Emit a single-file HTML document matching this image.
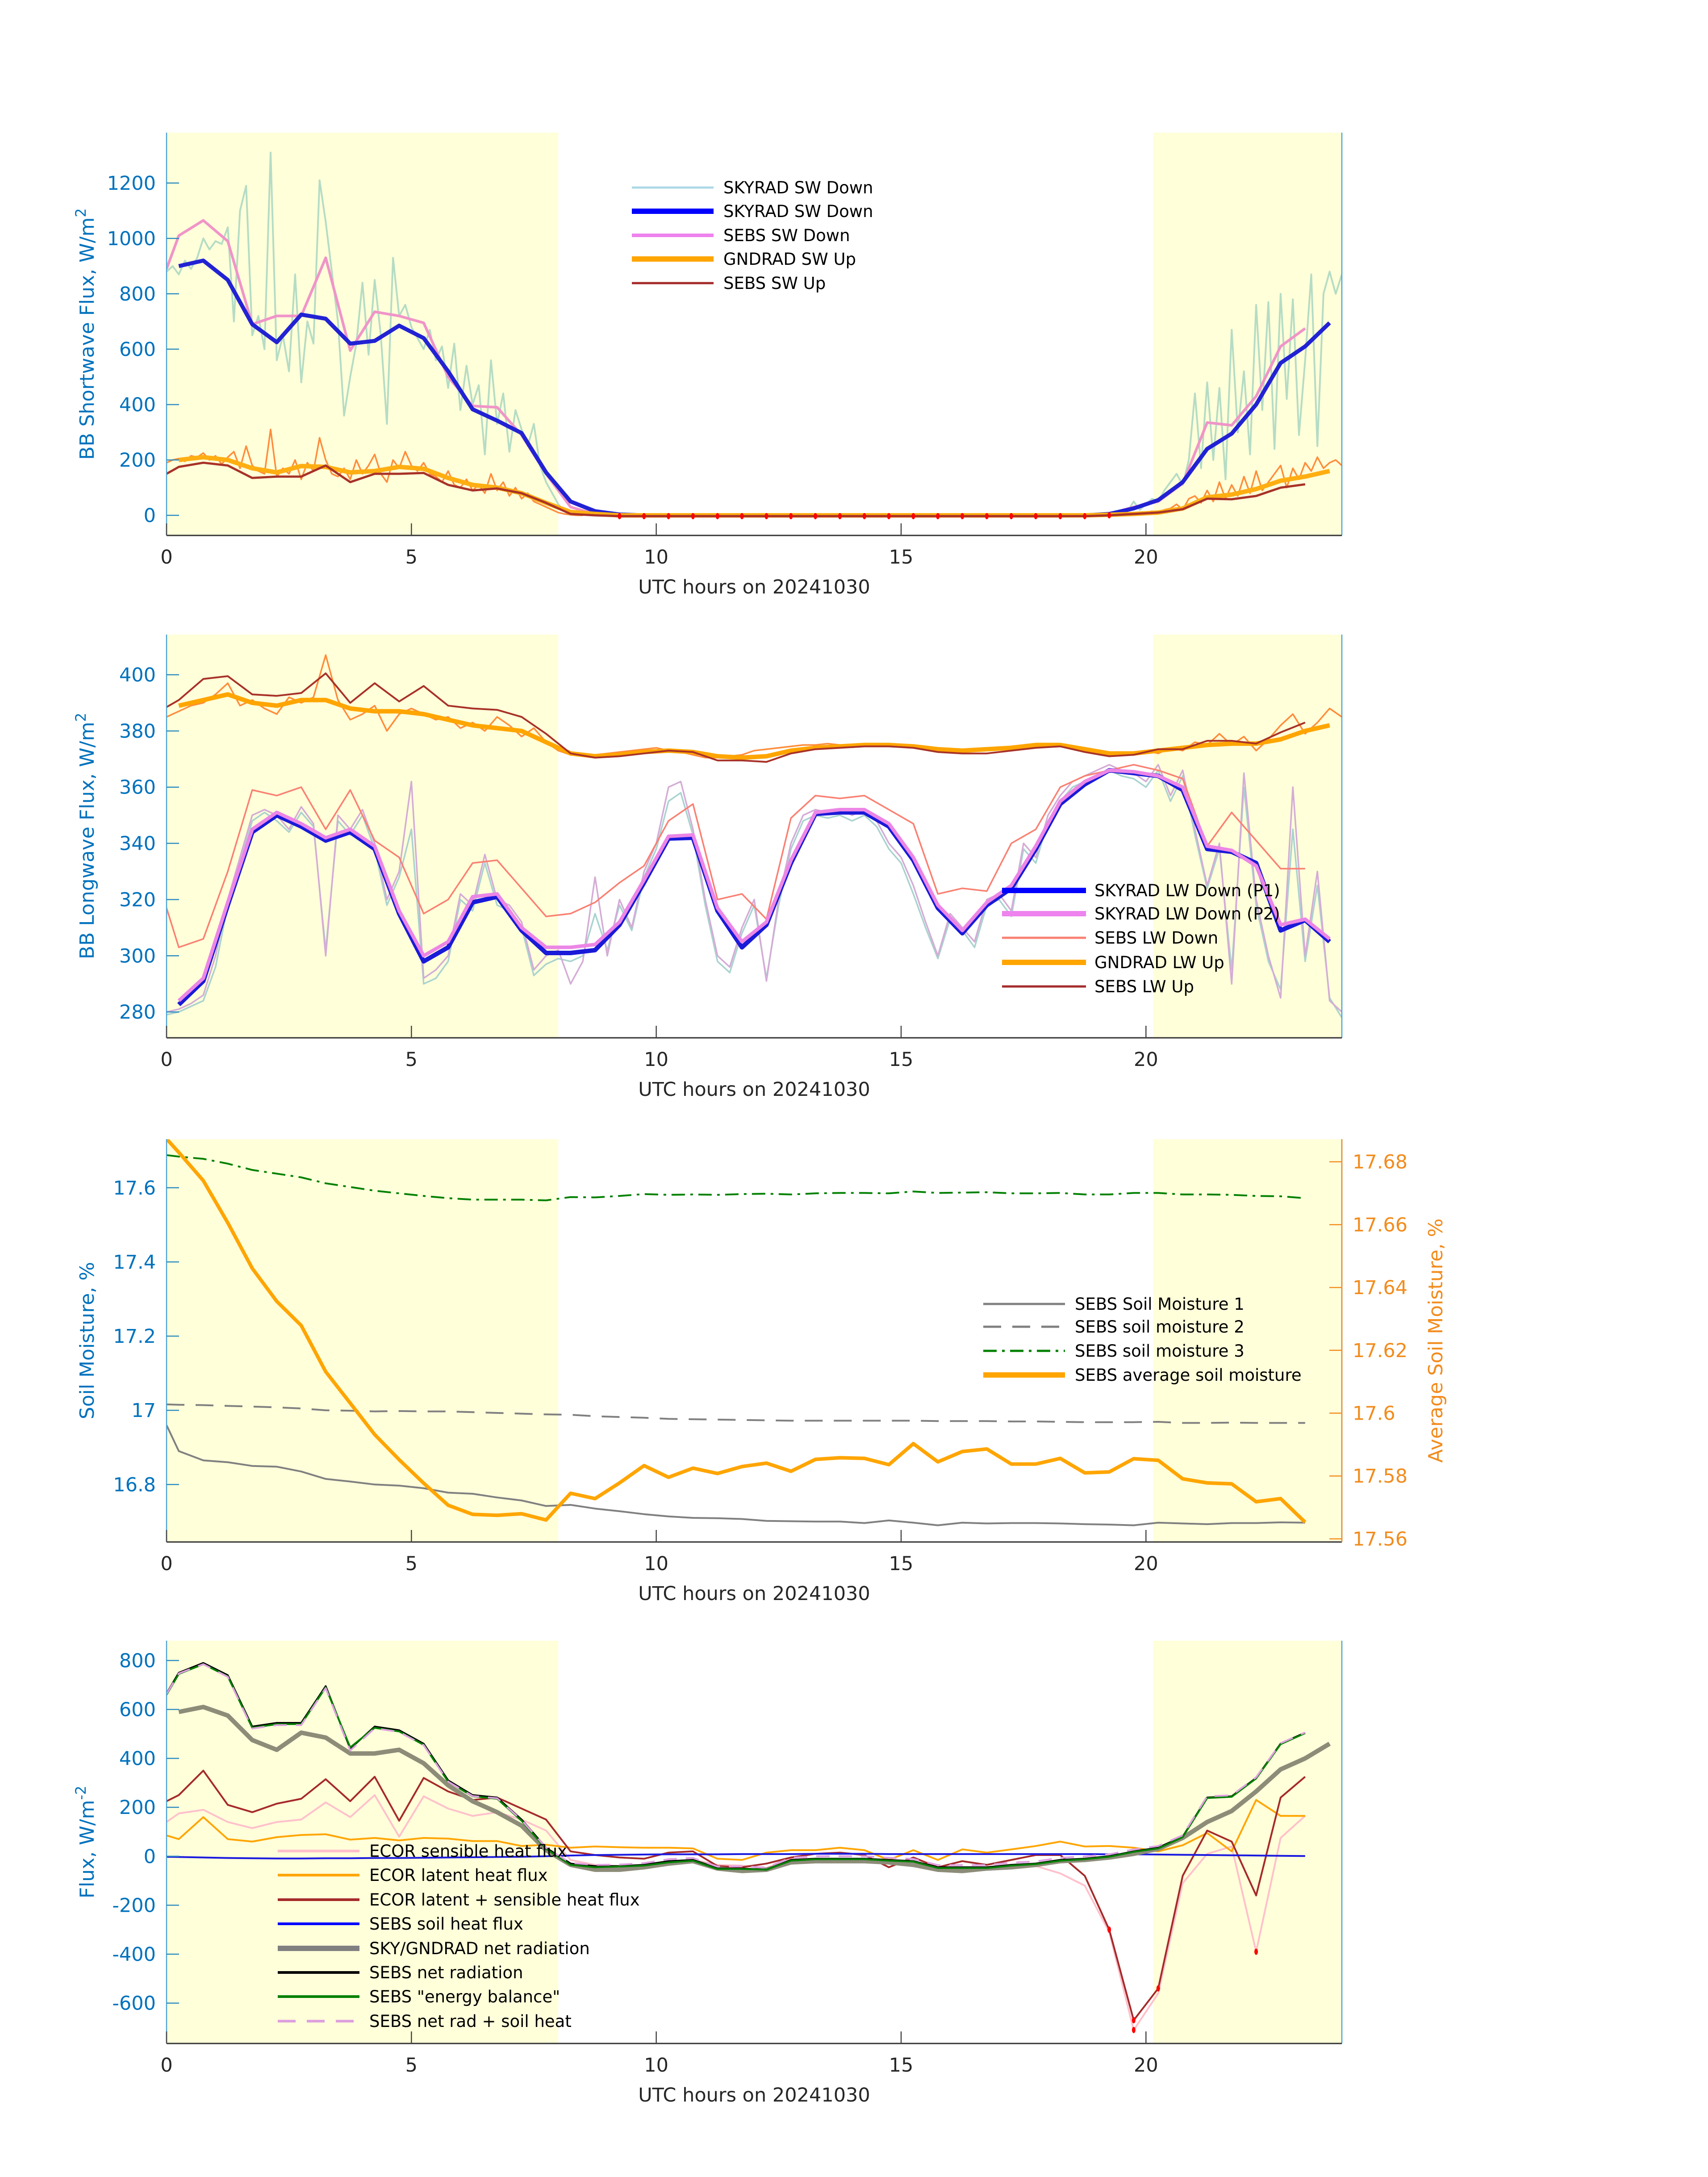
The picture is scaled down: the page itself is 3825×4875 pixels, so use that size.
<!DOCTYPE html>
<html><head><meta charset="utf-8"><title>Radiation and flux chart</title>
<style>html,body{margin:0;padding:0;background:#fff}svg{display:block}text{font-family:"DejaVu Sans","Liberation Sans",sans-serif}</style>
</head><body>
<svg id="fig" xmlns="http://www.w3.org/2000/svg" width="3825" height="4875" viewBox="0 0 3825 4875">
<rect x="0" y="0" width="3825" height="4875" fill="#fff"/>
<g id="p1"></g>
<g id="p2"></g>
<g id="p3"></g>
<g id="p4"></g>

<text transform="translate(210,748) rotate(-90)" text-anchor="middle" font-size="44" fill="#0072bd">BB Shortwave Flux, W/m<tspan dy="-18" font-size="32">2</tspan></text>
<text transform="translate(210,1872) rotate(-90)" text-anchor="middle" font-size="44" fill="#0072bd">BB Longwave Flux, W/m<tspan dy="-18" font-size="32">2</tspan></text>
<text transform="translate(210,3002) rotate(-90)" text-anchor="middle" font-size="44" fill="#0072bd">Soil Moisture, %</text>
<text transform="translate(3230,3002) rotate(-90)" text-anchor="middle" font-size="44" fill="#f28c1e">Average Soil Moisture, %</text>
<text transform="translate(210,4125) rotate(-90)" text-anchor="middle" font-size="44" fill="#0072bd">Flux, W/m<tspan dy="-18" font-size="32">-2</tspan></text>

<g font-size="37" fill="#000">
<line x1="1415" y1="420" x2="1598" y2="420" stroke="#add8e6" stroke-width="5"/><text x="1620" y="433">SKYRAD SW Down</text>
<line x1="1415" y1="473" x2="1598" y2="473" stroke="#0000ff" stroke-width="12"/><text x="1620" y="486">SKYRAD SW Down</text>
<line x1="1415" y1="527" x2="1598" y2="527" stroke="#ee82ee" stroke-width="8"/><text x="1620" y="540">SEBS SW Down</text>
<line x1="1415" y1="580" x2="1598" y2="580" stroke="#ffa500" stroke-width="12"/><text x="1620" y="593">GNDRAD SW Up</text>
<line x1="1415" y1="634" x2="1598" y2="634" stroke="#a52a2a" stroke-width="5"/><text x="1620" y="647">SEBS SW Up</text>
</g>
<g font-size="37" fill="#000">
<line x1="2244" y1="1994" x2="2432" y2="1994" stroke="#0000ff" stroke-width="12"/><text x="2451" y="2007">SKYRAD LW Down (P1)</text>
<line x1="2244" y1="2046" x2="2432" y2="2046" stroke="#ee82ee" stroke-width="12"/><text x="2451" y="2059">SKYRAD LW Down (P2)</text>
<line x1="2244" y1="2100" x2="2432" y2="2100" stroke="#fa8072" stroke-width="5"/><text x="2451" y="2113">SEBS LW Down</text>
<line x1="2244" y1="2155" x2="2432" y2="2155" stroke="#ffa500" stroke-width="12"/><text x="2451" y="2168">GNDRAD LW Up</text>
<line x1="2244" y1="2209" x2="2432" y2="2209" stroke="#a52a2a" stroke-width="5"/><text x="2451" y="2222">SEBS LW Up</text>
</g>
<g font-size="37" fill="#000">
<line x1="2202" y1="2920" x2="2385" y2="2920" stroke="#808080" stroke-width="5"/><text x="2407" y="2933">SEBS Soil Moisture 1</text>
<line x1="2202" y1="2971" x2="2385" y2="2971" stroke="#808080" stroke-width="5" stroke-dasharray="40,25"/><text x="2407" y="2984">SEBS soil moisture 2</text>
<line x1="2202" y1="3025" x2="2385" y2="3025" stroke="#008000" stroke-width="5" stroke-dasharray="30,12,6,12"/><text x="2407" y="3038">SEBS soil moisture 3</text>
<line x1="2202" y1="3079" x2="2385" y2="3079" stroke="#ffa500" stroke-width="12"/><text x="2407" y="3092">SEBS average soil moisture</text>
</g>
<g font-size="37" fill="#000">
<line x1="622" y1="4145" x2="805" y2="4145" stroke="#ffc0cb" stroke-width="6"/><text x="827" y="4158">ECOR sensible heat flux</text>
<line x1="622" y1="4199" x2="805" y2="4199" stroke="#ffa500" stroke-width="6"/><text x="827" y="4212">ECOR latent heat flux</text>
<line x1="622" y1="4254" x2="805" y2="4254" stroke="#a52a2a" stroke-width="6"/><text x="827" y="4267">ECOR latent + sensible heat flux</text>
<line x1="622" y1="4308" x2="805" y2="4308" stroke="#0000ff" stroke-width="6"/><text x="827" y="4321">SEBS soil heat flux</text>
<line x1="622" y1="4363" x2="805" y2="4363" stroke="#808080" stroke-width="12"/><text x="827" y="4376">SKY/GNDRAD net radiation</text>
<line x1="622" y1="4417" x2="805" y2="4417" stroke="#000" stroke-width="6"/><text x="827" y="4430">SEBS net radiation</text>
<line x1="622" y1="4471" x2="805" y2="4471" stroke="#008000" stroke-width="6"/><text x="827" y="4484">SEBS "energy balance"</text>
<line x1="622" y1="4526" x2="805" y2="4526" stroke="#dda0dd" stroke-width="6" stroke-dasharray="40,25"/><text x="827" y="4539">SEBS net rad + soil heat</text>
</g>
</svg>
<script>
// ---------- data ----------
const xTicks = [0,5,10,15,20];
const swTicks = [0,200,400,600,800,1000,1200];
const lwTicks = [280,300,320,340,360,380,400];
const smTicks = [16.8,17,17.2,17.4,17.6];
const smTickLabels = ["16.8","17","17.2","17.4","17.6"];
const avgTicks = [17.56,17.58,17.6,17.62,17.64,17.66,17.68];
const avgTickLabels = ["17.56","17.58","17.6","17.62","17.64","17.66","17.68"];
const fxTicks = [-600,-400,-200,0,200,400,600,800];
const nightStart = 8, nightEnd = 20.15;

// panel 1 (T1 = 0.25,0.75,...,23.75 ; T2 = 0,0.25,0.75,...,23.25)
const swSkyDown = [900,920,850,690,625,725,710,620,630,685,640,520,383,342,297,155,50,15,3,0,0,0,0,0,0,0,0,0,0,0,0,0,0,0,0,0,0,0,5,25,55,120,240,295,400,550,610,695];
const swSebsDown = [890,1010,1065,990,690,720,720,930,595,735,720,695,500,395,390,290,150,30,5,-4,-4,-4,-4,-4,-4,-4,-4,-4,-4,-4,-4,-4,-4,-4,-4,-4,-4,-4,-2,5,30,50,115,335,325,430,610,675];
const swGndUp = [200,210,200,170,155,178,175,155,160,175,168,135,110,100,80,45,12,5,0,0,0,0,0,0,0,0,0,0,0,0,0,0,0,0,0,0,0,0,2,5,10,25,65,75,95,125,140,160];
const swSebsUp = [150,175,190,180,135,140,140,180,120,150,150,153,110,90,97,80,45,5,0,-3,-3,-3,-3,-3,-3,-3,-3,-3,-3,-3,-3,-3,-3,-3,-3,-3,-3,-3,-3,0,5,10,22,60,58,70,100,112];
const swSkyDownFineAM = [880,900,870,920,890,930,1000,960,990,980,1040,700,1100,1190,650,720,600,1310,560,650,520,870,480,700,620,1210,1060,880,700,360,500,620,840,580,850,650,330,930,720,760,680,640,600,670,560,610,460,620,380,540,400,470,220,560,330,440,230,380,310,250,330,180,120,80,40,15,8,3,0];
const swSkyDownFinePM = [5,15,50,20,40,60,50,90,120,150,110,200,440,170,480,200,460,130,670,300,520,220,760,380,770,240,800,420,780,290,560,870,250,800,880,800,870];
const swGndUpFineAM = [190,200,205,195,215,210,225,200,215,185,210,230,170,250,180,160,150,310,140,170,150,200,130,190,160,280,200,150,140,170,130,200,150,180,220,150,120,200,170,230,180,160,190,150,140,120,160,110,100,130,90,110,80,150,90,120,70,100,60,80,50,40,30,20,10,5,2,0,0];
const swGndUpFinePM = [2,5,8,5,10,15,10,20,25,40,20,60,70,45,90,50,120,60,110,70,140,80,160,90,120,150,180,100,170,130,190,160,210,170,190,200,180];

// panel 2
const lwSkyP1 = [282.6,291,318,344,350,346,341,344,338,315,298,303,319,321,309,301,301,302,311,326,341.7,342,316,303,311,333,350.5,351,351,346,334,317,308,318,324,338,354,361,366,365,364,359,338,337,333,309,312.7,305];
const lwSkyP2 = [284,292,319,345,351,347,342,345,339,316,300,305,321,322,310,303,303,304,312,327,342.5,343,317,305,312,334,351,352,352,347,335,318,309,319,325,339,355,362,366,365.5,364,360,339,337.5,332,311,313,306];
const lwSebsDown = [317,303,306,330,359,357,360,345,359,341,335,315,320,333,334,324,314,315,319,326,332,348,354,320,322,313,349,357,356,357,352,347,322,324,323,340,345,360,364,366,368,366,363,339,351,341,331,331];
const lwGndUp = [389,391,393,390,389,391,391,388,387,387,386,384,382,381,380,376,372,371,371.5,372.5,373,372.5,371,370.5,371,373,374,374.5,375,375,374.5,373.5,373,373.5,374,375,375,373.5,372,372,373,374,375,375.5,375.5,377,380,382];
const lwSebsUp = [388.5,391,398.5,399.5,393,392.5,393.5,400.5,390,397,390.5,396,389,388,387.5,385,379,372,370.5,371,372,373,372.5,369.5,369.5,369,372,373.5,374,374.5,374.5,374,372.5,372,372,373,374,374.5,372.5,371,371.5,373.5,373.5,376.5,376.5,375.5,379.5,383];
const lwP2Fine = [280,281,283,286,300,320,335,350,352, 350,345,353,347,300,350,345,352, 340,320,330,362,292,295,300,322, 318,336,320,318,312,295,300,302, 290,298,328,300,320,310,330,340, 360,362,345,320,300,296,310,320, 291,320,340,350,352,351,352,350, 352,348,340,335,325,312,300,315, 310,305,320,322,316,340,335,350, 357,362,364,366,368,366,365,362, 368,357,366,345,325,340,290,365, 320,300,285,360,300,330,284,280];
const lwP1Fine = [279,280,282,284,296,318,333,348,351, 348,344,351,346,302,348,343,350, 338,318,328,345,290,292,298,320, 316,333,318,316,310,293,297,299, 298,300,315,302,318,309,328,338, 355,358,343,318,298,294,308,318, 292,318,338,348,350,349,350,348, 350,346,338,333,322,310,299,313, 309,303,318,320,314,338,333,348, 355,360,362,364,366,364,363,360, 366,355,364,343,324,338,295,360, 318,298,288,345,298,325,285,278];
const lwGndFine = [385,387,389,390,393,397,389,391,388, 386,392,390,392,407,391,384,386, 389,380,386,388,386,384,385,381, 383,380,385,382,378,381,376,373, 371.5,371,371.5,372,372.5,373,373.5,374, 373,372.5,371.5,370.5,370.5,371,371.5,373, 373.5,374,374.5,375,375,375.5,375,374.5, 375,375,374.5,374.5,374,373.5,373,373, 373,373.5,373.5,374,374.5,375,375.5,375, 375,374,373,372,372,372,372.5,373, 372,374,373,376,375,379,375,378, 373,377,382,386,379,383,388,385];

// panel 3
const sm1 = [16.96,16.89,16.865,16.86,16.85,16.848,16.835,16.815,16.808,16.8,16.797,16.79,16.778,16.775,16.765,16.757,16.742,16.745,16.735,16.728,16.72,16.714,16.71,16.709,16.707,16.702,16.701,16.7,16.7,16.696,16.703,16.697,16.69,16.697,16.695,16.696,16.696,16.695,16.693,16.692,16.69,16.697,16.695,16.693,16.696,16.696,16.698,16.697];
const sm2 = [17.016,17.015,17.014,17.012,17.01,17.008,17.005,17.0,16.999,16.997,16.998,16.997,16.997,16.995,16.993,16.991,16.989,16.988,16.984,16.982,16.98,16.977,16.976,16.975,16.974,16.973,16.972,16.972,16.972,16.972,16.972,16.972,16.971,16.971,16.971,16.97,16.97,16.969,16.968,16.968,16.968,16.969,16.966,16.966,16.967,16.966,16.966,16.966];
const sm3 = [17.688,17.684,17.678,17.665,17.648,17.638,17.628,17.612,17.602,17.592,17.585,17.578,17.572,17.568,17.568,17.568,17.566,17.575,17.574,17.578,17.583,17.581,17.582,17.581,17.583,17.584,17.582,17.585,17.586,17.586,17.585,17.59,17.586,17.587,17.588,17.585,17.585,17.586,17.582,17.582,17.586,17.586,17.582,17.582,17.581,17.578,17.577,17.572];
const smAvg = [17.6873,17.683,17.674,17.6606,17.6461,17.6356,17.6279,17.6132,17.6032,17.5932,17.5852,17.5777,17.5707,17.5678,17.5675,17.568,17.566,17.5745,17.5728,17.5778,17.5833,17.5796,17.5825,17.5808,17.583,17.5841,17.5815,17.5853,17.5858,17.5856,17.5836,17.5903,17.5845,17.5878,17.5886,17.5838,17.5838,17.5856,17.581,17.5813,17.5855,17.585,17.5791,17.5778,17.5775,17.5718,17.5728,17.5653];

// panel 4
const fxSens = [140,175,190,140,115,140,150,220,160,250,80,245,195,165,180,150,105,-15,-35,-40,-35,-20,-15,-35,-38,-48,-10,-10,-12,-15,-30,-25,-50,-45,-50,-40,-40,-70,-120,-310,-710,-560,-110,10,40,-390,75,165];
const fxLatent = [85,70,160,70,60,78,87,90,68,75,65,75,72,62,62,42,47,35,40,37,35,35,32,-10,-15,15,25,25,35,25,-15,25,-15,28,15,28,42,60,40,42,35,20,45,95,20,230,165,165];
const fxSum = [225,250,350,210,180,215,235,315,225,325,145,320,265,230,240,195,150,20,5,-5,-10,15,20,-40,-45,-30,-5,10,15,5,-45,-5,-45,-20,-35,-15,5,5,-80,-300,-670,-540,-80,105,60,-160,240,325];
const fxSoil = [-2,-3,-5,-7,-8,-9,-9,-8,-8,-7,-7,-6,-5,-4,-3,-2,0,3,5,6,7,8,8,8,9,9,9,10,10,10,9,9,9,9,9,9,9,9,9,8,8,7,6,5,4,3,2,1];
const fxSkyNet = [590,610,575,475,435,505,485,420,420,435,380,290,225,180,125,25,-35,-55,-55,-45,-30,-20,-50,-60,-55,-25,-20,-20,-20,-25,-35,-55,-60,-50,-45,-35,-20,-15,-5,10,30,75,140,185,265,355,400,460];
const fxSebsNet = [665,750,790,740,530,545,545,695,440,530,515,460,310,250,240,150,35,-30,-40,-40,-35,-20,-15,-50,-50,-55,-15,-10,-10,-10,-15,-20,-45,-45,-45,-35,-30,-15,-10,0,20,35,80,240,245,320,460,505];
const fxEnergy = [660,745,785,735,525,540,540,690,445,525,510,455,305,245,235,145,30,-35,-45,-42,-38,-25,-18,-52,-52,-55,-18,-12,-12,-12,-18,-22,-48,-48,-48,-38,-32,-18,-12,-2,18,32,78,238,243,318,458,503];
const fxNetSoil = [663,747,785,733,522,536,536,687,432,523,508,454,305,246,237,148,35,-27,-35,-34,-28,-12,-7,-42,-41,-46,-6,0,0,0,-6,-11,-36,-36,-36,-26,-21,-6,-1,8,28,42,86,245,249,323,462,506];

// ---------- helpers ----------
const NS = "http://www.w3.org/2000/svg";
const X0 = 373, X1 = 3005;
function xs(t){ return X0 + t*(X1-X0)/24; }
function yScale(top,bottom,lo,hi){ return v => bottom - (v-lo)*(bottom-top)/(hi-lo); }
function T1(n){ const a=[]; for(let k=0;k<n;k++) a.push(0.25+0.5*k); return a; }
function T2(n){ const a=[0]; for(let k=1;k<n;k++) a.push(0.25+0.5*(k-1)); return a; }
function TF(start,step,n){ const a=[]; for(let k=0;k<n;k++) a.push(start+step*k); return a; }
function mk(tag,attrs,parent){ const e=document.createElementNS(NS,tag); for(const k in attrs) e.setAttribute(k,attrs[k]); parent.appendChild(e); return e; }
function pathD(ts,vs,ys){ let d="",pen=false; for(let i=0;i<vs.length;i++){ if(vs[i]===null||vs[i]===undefined){pen=false;continue;} d+=(pen?"L":"M")+xs(ts[i]).toFixed(1)+","+ys(vs[i]).toFixed(1); pen=true;} return d; }
function drawLine(g,ts,vs,ys,color,w,name,dash,op){
  const p = mk("path",{d:pathD(ts,vs,ys),fill:"none",stroke:color,"stroke-width":w,"stroke-linejoin":"round"},g);
  if(dash) p.setAttribute("stroke-dasharray",dash);
  if(op) p.setAttribute("opacity",op);
  
  
  return p;
}
function frame(g,top,bottom,ys,ticks,labels,name,clipId){
  const cp = mk("clipPath",{id:clipId},g);
  mk("rect",{x:X0,y:top,width:X1-X0,height:bottom-top},cp);
  const s1 = mk("rect",{x:X0,y:top,width:xs(nightStart)-X0,height:bottom-top,fill:"#ffffda"},g);
  
  
  const s2 = mk("rect",{x:xs(nightEnd),y:top,width:X1-xs(nightEnd),height:bottom-top,fill:"#ffffda"},g);
  
  
  const plot = mk("g",{"clip-path":"url(#"+clipId+")"},g);
  
  
  const axes = mk("g",{},g);
  
  
  mk("line",{x1:X0,y1:top,x2:X0,y2:bottom,stroke:"#4aa3d6","stroke-width":2.5},axes);
  mk("line",{x1:X1,y1:top,x2:X1,y2:bottom,stroke:"#4aa3d6","stroke-width":2.5},axes);
  mk("line",{x1:X0,y1:bottom,x2:X1,y2:bottom,stroke:"#333","stroke-width":3},axes);
  xTicks.forEach(t=>{
    mk("line",{x1:xs(t),y1:bottom,x2:xs(t),y2:bottom-27,stroke:"#444","stroke-width":2.5},axes);
    const tx = mk("text",{x:xs(t),y:bottom+63,"text-anchor":"middle","font-size":43,fill:"#262626"},axes);
    tx.textContent = String(t);
    
    
  });
  const xl = mk("text",{x:(X0+X1)/2,y:bottom+130,"text-anchor":"middle","font-size":43,fill:"#262626"},axes);
  xl.textContent = "UTC hours on 20241030";
  
  
  ticks.forEach((v,i)=>{
    const y = ys(v);
    mk("line",{x1:X0,y1:y,x2:X0+28,y2:y,stroke:"#2e8bc0","stroke-width":2.5},axes);
    const tx = mk("text",{x:X0-24,y:y+15,"text-anchor":"end","font-size":43,fill:"#0072bd"},axes);
    tx.textContent = labels ? labels[i] : String(v);
    
    
  });
  return {plot,axes};
}
function dots(g,ts,vs,ys,tmin,tmax,name){
  for(let i=0;i<vs.length;i++){
    if(ts[i]<tmin||ts[i]>tmax||vs[i]===null) continue;
    const c = mk("ellipse",{cx:xs(ts[i]),cy:ys(vs[i]),rx:4,ry:7,fill:"#ff0000"},g);
    
    
  }
}

// ---------- panel 1 ----------
(function(){
  const g = document.getElementById("p1");
  const ys = yScale(297,1199,-72.6,1382);
  const f = frame(g,297,1199,ys,swTicks,null,"sw","c1");
  const p = f.plot;
  drawLine(p,TF(0,0.125,swSkyDownFineAM.length),swSkyDownFineAM,ys,"#b5dcc4",4,"skyrad-sw-down-1min-am");
  drawLine(p,TF(19.5,0.125,swSkyDownFinePM.length),swSkyDownFinePM,ys,"#b5dcc4",4,"skyrad-sw-down-1min-pm");
  drawLine(p,TF(0,0.125,swGndUpFineAM.length),swGndUpFineAM,ys,"#ff8c3a",3.5,"gndrad-sw-up-1min-am");
  drawLine(p,TF(19.5,0.125,swGndUpFinePM.length),swGndUpFinePM,ys,"#ff8c3a",3.5,"gndrad-sw-up-1min-pm");
  drawLine(p,T2(swSebsDown.length),swSebsDown,ys,"#f094c8",6,"sebs-sw-down");
  drawLine(p,T1(swSkyDown.length),swSkyDown,ys,"#2222d4",9,"skyrad-sw-down");
  drawLine(p,T1(swGndUp.length),swGndUp,ys,"#ffae12",10,"gndrad-sw-up");
  drawLine(p,T2(swSebsUp.length),swSebsUp,ys,"#a83228",5,"sebs-sw-up");
  dots(p,T2(swSebsUp.length),swSebsUp,ys,9,19.3,"sebs-sw-up-marker");
})();

// ---------- panel 2 ----------
(function(){
  const g = document.getElementById("p2");
  const ys = yScale(1421,2324,270.8,414.3);
  const f = frame(g,1421,2324,ys,lwTicks,null,"lw","c2");
  const p = f.plot;
  drawLine(p,TF(0,0.25,lwP1Fine.length),lwP1Fine,ys,"#a9d3cf",3.5,"skyrad-lw-down-p1-1min");
  drawLine(p,TF(0,0.25,lwP2Fine.length),lwP2Fine,ys,"#d4acd6",3.5,"skyrad-lw-down-p2-1min");
  drawLine(p,TF(0,0.25,lwGndFine.length),lwGndFine,ys,"#ff8c3a",3.5,"gndrad-lw-up-1min");
  drawLine(p,T2(lwSebsDown.length),lwSebsDown,ys,"#fa8072",3.5,"sebs-lw-down");
  drawLine(p,T1(lwSkyP1.length),lwSkyP1,ys,"#1a1ad8",10,"skyrad-lw-down-p1");
  drawLine(p,T1(lwSkyP2.length),lwSkyP2,ys,"#ec86e6",8,"skyrad-lw-down-p2");
  drawLine(p,T1(lwGndUp.length),lwGndUp,ys,"#ffa500",10,"gndrad-lw-up");
  drawLine(p,T2(lwSebsUp.length),lwSebsUp,ys,"#a83228",4,"sebs-lw-up");
})();

// ---------- panel 3 ----------
(function(){
  const g = document.getElementById("p3");
  const ys = yScale(2551,3453,16.645,17.731);
  const yr = yScale(2551,3453,17.559,17.6872);
  const f = frame(g,2551,3453,ys,smTicks,smTickLabels,"sm","c3");
  const p = f.plot;
  drawLine(p,T2(sm1.length),sm1,ys,"#808080",4,"sebs-soil-moisture-1");
  drawLine(p,T2(sm2.length),sm2,ys,"#808080",4,"sebs-soil-moisture-2","40,25");
  drawLine(p,T2(sm3.length),sm3,ys,"#008000",4,"sebs-soil-moisture-3","30,12,6,12");
  drawLine(p,T2(smAvg.length),smAvg,yr,"#ffa500",8,"sebs-average-soil-moisture");
  const ax = f.axes;
  mk("line",{x1:X1,y1:2551,x2:X1,y2:3453,stroke:"#f28c1e","stroke-width":2.5},ax);
  avgTicks.forEach((v,i)=>{
    const y = yr(v);
    mk("line",{x1:X1,y1:y,x2:X1-28,y2:y,stroke:"#f28c1e","stroke-width":2.5},ax);
    const tx = mk("text",{x:X1+24,y:y+15,"text-anchor":"start","font-size":43,fill:"#f28c1e"},ax);
    tx.textContent = avgTickLabels[i];
    
    
  });
})();

// ---------- panel 4 ----------
(function(){
  const g = document.getElementById("p4");
  const ys = yScale(3674,4576,-765,881);
  const f = frame(g,3674,4576,ys,fxTicks,null,"fx","c4");
  const p = f.plot;
  drawLine(p,T2(fxSens.length),fxSens,ys,"#ffc0cb",4,"ecor-sensible-heat-flux");
  drawLine(p,T2(fxLatent.length),fxLatent,ys,"#ffa500",4,"ecor-latent-heat-flux");
  drawLine(p,T2(fxSum.length),fxSum,ys,"#a52a2a",4,"ecor-latent-sensible-heat-flux");
  drawLine(p,T2(fxSoil.length),fxSoil,ys,"#1a1ae0",4,"sebs-soil-heat-flux");
  drawLine(p,T1(fxSkyNet.length),fxSkyNet,ys,"#8c8c78",10,"sky-gndrad-net-radiation");
  drawLine(p,T2(fxSebsNet.length),fxSebsNet,ys,"#000",4,"sebs-net-radiation");
  drawLine(p,T2(fxEnergy.length),fxEnergy,ys,"#008000",4,"sebs-energy-balance");
  drawLine(p,T2(fxNetSoil.length),fxNetSoil,ys,"#dda0dd",4,"sebs-net-rad-soil-heat","30,20");
  dots(p,T2(fxSum.length),fxSum,ys,19,20.3,"ecor-flux-marker");
  dots(p,T2(fxSens.length),fxSens,ys,19.5,19.9,"ecor-sensible-marker");
  dots(p,T2(fxSens.length),fxSens,ys,22.2,22.3,"ecor-sensible-marker");
})();
</script>
</body></html>
